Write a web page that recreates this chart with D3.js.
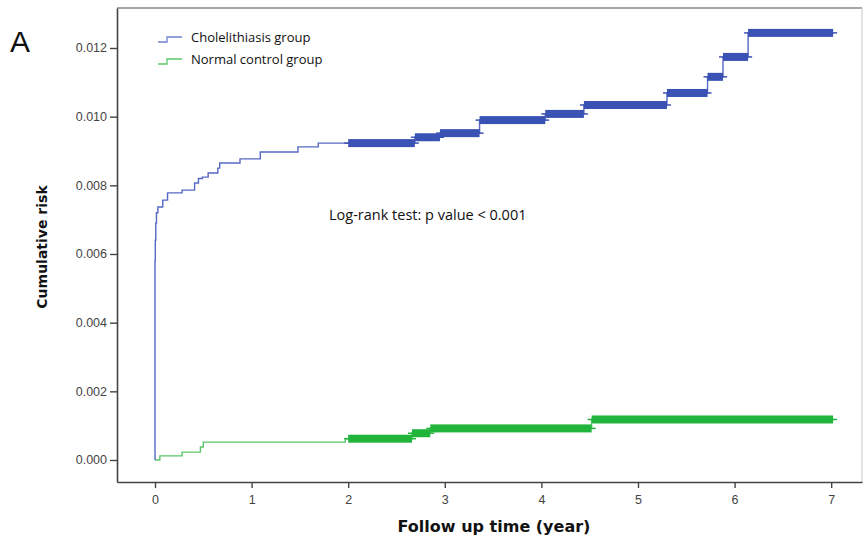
<!DOCTYPE html>
<html>
<head>
<meta charset="utf-8">
<script src="https://cdn.jsdelivr.net/npm/d3@7/dist/d3.min.js"></script>
<style>
  body { margin: 0; background: #fff; }
  svg { display: block; }
</style>
</head>
<body>
<div id="chart"></div>
<script>
// Kaplan-Meier style cumulative risk
const blueTime = [0, 0, 0.003, 0.008, 0.015, 0.03, 0.08, 0.13, 0.28, 0.41, 0.45, 0.49, 0.55, 0.65, 0.67, 0.88, 1.09, 1.48, 1.69, 2.69, 2.95, 3.36, 4.04, 4.44, 5.30, 5.72, 5.88, 6.14];
const blueRisk = [0, 0.0058, 0.0064, 0.0069, 0.0072, 0.00737, 0.00757, 0.00778, 0.00786, 0.00807, 0.0082, 0.00824, 0.00836, 0.0085, 0.00865, 0.00877, 0.00897, 0.00912, 0.00923, 0.0094, 0.00952, 0.0099, 0.01008, 0.01034, 0.01069, 0.01116, 0.01174, 0.01244];
const blueEnd = 7.02;

const greenTime = [0, 0.05, 0.28, 0.47, 0.50, 1.97, 2.66, 2.85, 4.52];
const greenRisk = [0, 0.00012, 0.00023, 0.00038, 0.00052, 0.00062, 0.00078, 0.00092, 0.00118];
const greenEnd = 7.02;

const censorStart = 2.0;

const xTicks = [0, 1, 2, 3, 4, 5, 6, 7];
const yTicks = [0, 0.002, 0.004, 0.006, 0.008, 0.010, 0.012];
const groups = ["Cholelithiasis group", "Normal control group"];

const W = 863, H = 546;
const margin = {top: 8, right: 1, bottom: 64, left: 117};
const width = W - margin.left - margin.right;
const height = H - margin.top - margin.bottom;

const svg = d3.select("#chart").append("svg")
    .attr("width", W)
    .attr("height", H);

const g = svg.append("g")
    .attr("transform", "translate(" + margin.left + "," + margin.top + ")");

// scales
const x = d3.scaleLinear().domain([-0.3934, 7.319]).range([0, width]);
const y = d3.scaleLinear().domain([-0.000641, 0.013165]).range([height, 0]);

// frame (top & right light)
g.append("line").attr("x1", 0).attr("x2", width).attr("y1", 0).attr("y2", 0)
    .attr("stroke", "#8a8a8a").attr("stroke-width", 1.5);
g.append("line").attr("x1", width).attr("x2", width).attr("y1", 0).attr("y2", height)
    .attr("stroke", "#c8c8c8").attr("stroke-width", 1);

// axes
const yAxis = g.append("g")
    .call(d3.axisLeft(y).tickValues(yTicks).tickFormat(d3.format(".3f")).tickSize(7).tickSizeOuter(0));
const xAxis = g.append("g")
    .attr("transform", "translate(0," + height + ")")
    .call(d3.axisBottom(x).tickValues(xTicks).tickFormat(d3.format("d")).tickSize(6).tickSizeOuter(0));

[yAxis, xAxis].forEach(a => {
    a.select(".domain").attr("stroke", "#444").attr("stroke-width", 1.6);
    a.selectAll(".tick line").attr("stroke", "#444").attr("stroke-width", 1.4);
    a.selectAll(".tick text")
        .attr("fill", "#444")
        .attr("font-family", "Liberation Sans, Arial, sans-serif")
        .attr("font-size", "12.5px");
});
xAxis.selectAll(".tick text").attr("dy", "1.05em");

// axis titles
g.append("text")
    .attr("transform", "translate(" + (47 - margin.left) + "," + (247 - margin.top) + ") rotate(-90)")
    .attr("text-anchor", "middle")
    .attr("font-family", "DejaVu Sans, Verdana, sans-serif")
    .attr("font-weight", "bold")
    .attr("font-size", "14px")
    .attr("fill", "#111")
    .text("Cumulative risk");

g.append("text")
    .attr("x", 494 - margin.left)
    .attr("y", 532 - margin.top)
    .attr("text-anchor", "middle")
    .attr("font-family", "DejaVu Sans, Verdana, sans-serif")
    .attr("font-weight", "bold")
    .attr("font-size", "16px")
    .attr("fill", "#111")
    .text("Follow up time (year)");

// panel letter
svg.append("text")
    .attr("x", 10).attr("y", 52)
    .attr("font-family", "Liberation Sans, Arial, sans-serif")
    .attr("font-size", "30px")
    .attr("fill", "#111")
    .text("A");

// annotation
svg.append("text")
    .attr("x", 329).attr("y", 220)
    .attr("font-family", "Open Sans, sans-serif")
    .attr("font-size", "14.5px")
    .attr("fill", "#111")
    .text("Log-rank test: p value < 0.001");

function drawSeries(times, risks, endT, thin, thick) {
    const pts = times.map((t, i) => ({t: t, r: risks[i]}));
    pts.push({t: endT, r: risks[risks.length - 1]});

    const line = d3.line()
        .curve(d3.curveStepAfter)
        .x(d => x(d.t))
        .y(d => y(d.r));

    g.append("path")
        .datum(pts)
        .attr("d", line)
        .attr("fill", "none")
        .attr("stroke", thin)
        .attr("stroke-width", 1.4);

    // dense censoring marks form a thick band after censorStart
    const segs = [];
    for (let i = 0; i < pts.length - 1; i++) {
        const a = Math.max(pts[i].t, censorStart), b = pts[i + 1].t;
        if (b > a) segs.push({a: a, b: b, r: pts[i].r});
    }
    const band = g.append("g");
    band.selectAll("rect").data(segs).join("rect")
        .attr("x", d => x(d.a))
        .attr("width", d => x(d.b) - x(d.a))
        .attr("y", d => y(d.r) - 4)
        .attr("height", 8)
        .attr("fill", thick);
    band.selectAll("line").data(segs).join("line")
        .attr("x1", d => x(d.b) - 2)
        .attr("x2", d => x(d.b) + 4)
        .attr("y1", d => y(d.r))
        .attr("y2", d => y(d.r))
        .attr("stroke", thick)
        .attr("stroke-width", 1.5);
    band.selectAll("line.l").data(segs).join("line")
        .attr("class", "l")
        .attr("x1", d => x(d.a) - 4)
        .attr("x2", d => x(d.a) + 2)
        .attr("y1", d => y(d.r))
        .attr("y2", d => y(d.r))
        .attr("stroke", thick)
        .attr("stroke-width", 1.5);
}

drawSeries(greenTime, greenRisk, greenEnd, "#5cc66a", "#22b53c");
drawSeries(blueTime, blueRisk, blueEnd, "#5668c4", "#3a52b4");

// legend
const legendColors = ["#6f80cf", "#5cc66a"];
const legend = svg.append("g").attr("transform", "translate(158,38)");
groups.forEach((name, i) => {
    const row = legend.append("g").attr("transform", "translate(0," + (i * 22) + ")");
    row.append("path")
        .attr("d", "M0,4 H9 V-1 H24")
        .attr("fill", "none")
        .attr("stroke", legendColors[i])
        .attr("stroke-width", 1.3);
    row.append("text")
        .attr("x", 33).attr("y", 4)
        .attr("font-family", "Open Sans, sans-serif")
        .attr("font-size", "13px")
        .attr("fill", "#111")
        .text(name);
});
</script>
</body>
</html>
